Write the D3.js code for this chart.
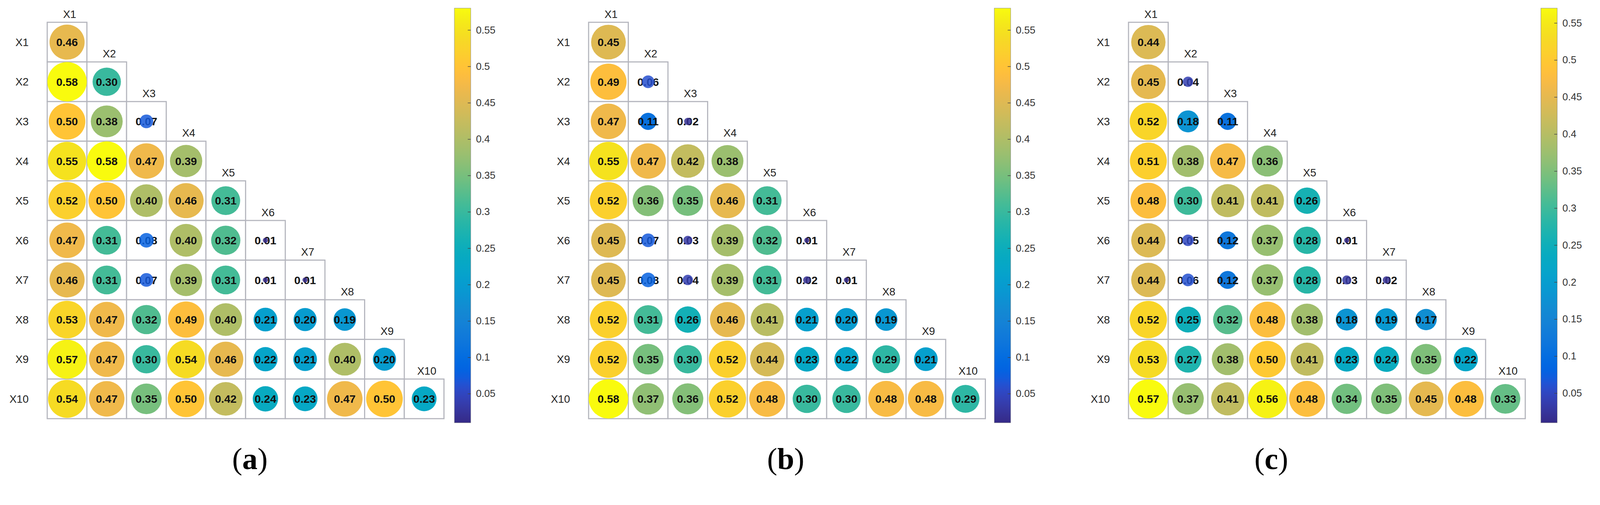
<!DOCTYPE html>
<html>
<head>
<meta charset="utf-8">
<script src="https://cdn.jsdelivr.net/npm/d3@7"></script>
<style>
  html, body { margin: 0; padding: 0; background: #fff; width: 100%; height: 100%; overflow: hidden; }
  svg { display: block; width: 100vw; height: 100vh; }
</style>
</head>
<body>
<svg id="chart" viewBox="0 0 4303 1294" preserveAspectRatio="xMidYMin meet"></svg>
<script>
// ---------------- DATA ----------------
const variables = ["X1","X2","X3","X4","X5","X6","X7","X8","X9","X10"];
const panelLabels = ["a","b","c"];

// lower-triangular matrices, row i holds columns X1..Xi
const valuesA = [
  [0.46],
  [0.58,0.30],
  [0.50,0.38,0.07],
  [0.55,0.58,0.47,0.39],
  [0.52,0.50,0.40,0.46,0.31],
  [0.47,0.31,0.08,0.40,0.32,0.01],
  [0.46,0.31,0.07,0.39,0.31,0.01,0.01],
  [0.53,0.47,0.32,0.49,0.40,0.21,0.20,0.19],
  [0.57,0.47,0.30,0.54,0.46,0.22,0.21,0.40,0.20],
  [0.54,0.47,0.35,0.50,0.42,0.24,0.23,0.47,0.50,0.23]
];
const valuesB = [
  [0.45],
  [0.49,0.06],
  [0.47,0.11,0.02],
  [0.55,0.47,0.42,0.38],
  [0.52,0.36,0.35,0.46,0.31],
  [0.45,0.07,0.03,0.39,0.32,0.01],
  [0.45,0.08,0.04,0.39,0.31,0.02,0.01],
  [0.52,0.31,0.26,0.46,0.41,0.21,0.20,0.19],
  [0.52,0.35,0.30,0.52,0.44,0.23,0.22,0.29,0.21],
  [0.58,0.37,0.36,0.52,0.48,0.30,0.30,0.48,0.48,0.29]
];
const valuesC = [
  [0.44],
  [0.45,0.04],
  [0.52,0.18,0.11],
  [0.51,0.38,0.47,0.36],
  [0.48,0.30,0.41,0.41,0.26],
  [0.44,0.05,0.12,0.37,0.28,0.01],
  [0.44,0.06,0.12,0.37,0.28,0.03,0.02],
  [0.52,0.25,0.32,0.48,0.38,0.18,0.19,0.17],
  [0.53,0.27,0.38,0.50,0.41,0.23,0.24,0.35,0.22],
  [0.57,0.37,0.41,0.56,0.48,0.34,0.35,0.45,0.48,0.33]
];
const colorbarTicks = [0.05,0.1,0.15,0.2,0.25,0.3,0.35,0.4,0.45,0.5,0.55];
const colorbarTickLabels = ["0.05","0.1","0.15","0.2","0.25","0.3","0.35","0.4","0.45","0.5","0.55"];

// MATLAB parula colormap (64 entries, RGB 0..1)
const parulaRGB = [
[0.2081,0.1663,0.5292],[0.2116,0.1898,0.5777],[0.2123,0.2138,0.6270],[0.2081,0.2386,0.6771],
[0.1959,0.2645,0.7279],[0.1707,0.2919,0.7792],[0.1253,0.3242,0.8303],[0.0591,0.3598,0.8683],
[0.0117,0.3875,0.8820],[0.0060,0.4086,0.8828],[0.0165,0.4266,0.8786],[0.0329,0.4430,0.8720],
[0.0498,0.4586,0.8641],[0.0629,0.4737,0.8554],[0.0723,0.4887,0.8467],[0.0779,0.5040,0.8384],
[0.0793,0.5200,0.8312],[0.0749,0.5375,0.8263],[0.0641,0.5570,0.8240],[0.0488,0.5772,0.8228],
[0.0343,0.5966,0.8199],[0.0265,0.6137,0.8135],[0.0239,0.6287,0.8038],[0.0231,0.6418,0.7913],
[0.0228,0.6535,0.7768],[0.0267,0.6642,0.7607],[0.0384,0.6743,0.7436],[0.0590,0.6838,0.7254],
[0.0843,0.6928,0.7062],[0.1133,0.7015,0.6859],[0.1453,0.7098,0.6646],[0.1801,0.7177,0.6424],
[0.2178,0.7250,0.6193],[0.2586,0.7317,0.5954],[0.3022,0.7376,0.5712],[0.3482,0.7424,0.5473],
[0.3953,0.7459,0.5244],[0.4420,0.7481,0.5033],[0.4871,0.7491,0.4840],[0.5300,0.7491,0.4661],
[0.5709,0.7485,0.4494],[0.6099,0.7473,0.4337],[0.6473,0.7456,0.4188],[0.6834,0.7435,0.4044],
[0.7184,0.7411,0.3905],[0.7525,0.7384,0.3768],[0.7858,0.7356,0.3633],[0.8185,0.7327,0.3498],
[0.8507,0.7299,0.3360],[0.8824,0.7274,0.3217],[0.9139,0.7258,0.3063],[0.9450,0.7261,0.2886],
[0.9739,0.7314,0.2666],[0.9938,0.7455,0.2403],[0.9990,0.7653,0.2164],[0.9955,0.7861,0.1967],
[0.9880,0.8066,0.1794],[0.9789,0.8271,0.1633],[0.9697,0.8481,0.1475],[0.9626,0.8705,0.1309],
[0.9589,0.8949,0.1132],[0.9598,0.9218,0.0948],[0.9661,0.9514,0.0755],[0.9763,0.9831,0.0538]
];
const parula = parulaRGB.map(c => d3.rgb(c[0] * 255, c[1] * 255, c[2] * 255).formatHex());

// ---------------- LAYOUT ----------------
const panels = [
  { values: valuesA, gridX: 127, cbX: 1222, labelX: 672 },
  { values: valuesB, gridX: 1583, cbX: 2674, labelX: 2113 },
  { values: valuesC, gridX: 3035, cbX: 4144, labelX: 3419 }
];
const gridTop = 60;
const cell = 106.7;
const n = variables.length;
const cbTop = 22, cbBottom = 1138, cbWidth = 44;
const smallThreshold = 0.1;

const svg = d3.select("#chart");
svg.append("rect").attr("width", 4303).attr("height", 1294).attr("fill", "#fff");

panels.forEach((p, pi) => {
  const flat = p.values.flat();
  const vmin = d3.min(flat), vmax = d3.max(flat);
  const color = d3.scaleSequential(d3.piecewise(d3.interpolateRgb, parula)).domain([vmin, vmax]);
  const rScale = d3.scaleSqrt().domain([0, 0.58]).range([0, 53]);

  const x = d3.scaleBand().domain(variables).range([p.gridX, p.gridX + n * cell]).padding(0);
  const y = d3.scaleBand().domain(variables).range([gridTop, gridTop + n * cell]).padding(0);

  const g = svg.append("g");

  const cells = [];
  p.values.forEach((row, i) => row.forEach((v, j) => cells.push({ r: variables[i], c: variables[j], v })));
  const big = cells.filter(d => d.v >= smallThreshold);
  const small = cells.filter(d => d.v < smallThreshold);

  // grid cells
  g.selectAll("rect.cell").data(cells).enter().append("rect")
    .attr("class", "cell")
    .attr("x", d => x(d.c)).attr("y", d => y(d.r))
    .attr("width", x.bandwidth()).attr("height", y.bandwidth())
    .attr("fill", "#fff").attr("stroke", "#b4b5bd").attr("stroke-width", 3);

  const drawCircles = (data, cls, opacity) => g.selectAll("circle." + cls).data(data).enter().append("circle")
    .attr("class", cls)
    .attr("cx", d => x(d.c) + x.bandwidth() / 2)
    .attr("cy", d => y(d.r) + y.bandwidth() / 2)
    .attr("r", d => rScale(d.v))
    .attr("fill", d => color(d.v))
    .attr("fill-opacity", opacity);

  // circles behind the labels
  drawCircles(big, "big", 1);

  // value labels
  g.selectAll("text.val").data(cells).enter().append("text")
    .attr("class", "val")
    .attr("x", d => x(d.c) + x.bandwidth() / 2)
    .attr("y", d => y(d.r) + y.bandwidth() / 2)
    .attr("dy", "0.36em")
    .attr("text-anchor", "middle")
    .attr("font-family", "Liberation Sans, Arial, sans-serif")
    .attr("font-weight", "bold")
    .attr("font-size", 30)
    .attr("fill", "#111")
    .text(d => d.v.toFixed(2));

  // tiny dots sit over their labels
  drawCircles(small, "small", 0.85);

  // row labels
  g.selectAll("text.row").data(variables).enter().append("text")
    .attr("class", "row")
    .attr("x", p.gridX - 50)
    .attr("y", d => y(d) + y.bandwidth() / 2)
    .attr("dy", "0.36em")
    .attr("text-anchor", "end")
    .attr("font-family", "Liberation Sans, Arial, sans-serif")
    .attr("font-size", 29)
    .attr("fill", "#222")
    .text(d => d);

  // column labels (staircase)
  g.selectAll("text.col").data(variables).enter().append("text")
    .attr("class", "col")
    .attr("x", d => x(d) + x.bandwidth() / 2 + 7)
    .attr("y", d => y(d) - 12)
    .attr("text-anchor", "middle")
    .attr("font-family", "Liberation Sans, Arial, sans-serif")
    .attr("font-size", 29)
    .attr("fill", "#222")
    .text(d => d);

  // colorbar
  const gradId = "grad" + pi;
  const grad = svg.append("defs").append("linearGradient")
    .attr("id", gradId).attr("x1", 0).attr("y1", 1).attr("x2", 0).attr("y2", 0);
  parula.forEach((c, k) => {
    grad.append("stop").attr("offset", k / (parula.length - 1)).attr("stop-color", c);
  });
  const cbScale = d3.scaleLinear().domain([vmin, vmax]).range([cbBottom, cbTop]);
  g.append("rect")
    .attr("x", p.cbX).attr("y", cbTop).attr("width", cbWidth).attr("height", cbBottom - cbTop)
    .attr("fill", `url(#${gradId})`).attr("stroke", "#888").attr("stroke-width", 1);

  const cbAxis = d3.axisRight(cbScale).tickValues(colorbarTicks)
    .tickFormat((d, i) => colorbarTickLabels[i]).tickSize(-8).tickPadding(14);
  const ax = g.append("g").attr("transform", `translate(${p.cbX + cbWidth},0)`).call(cbAxis);
  ax.select(".domain").remove();
  ax.selectAll("line").attr("stroke", "#444").attr("stroke-width", 1.5);
  ax.selectAll("text")
    .attr("font-family", "Liberation Sans, Arial, sans-serif")
    .attr("font-size", 27).attr("fill", "#333");

  // panel label
  const lab = svg.append("text")
    .attr("x", p.labelX).attr("y", 1263)
    .attr("text-anchor", "middle")
    .attr("font-family", "Liberation Serif, Times New Roman, serif")
    .attr("font-size", 82).attr("fill", "#000");
  lab.append("tspan").text("(");
  lab.append("tspan").attr("font-weight", "bold").text(panelLabels[pi]);
  lab.append("tspan").text(")");
});
</script>
</body>
</html>
